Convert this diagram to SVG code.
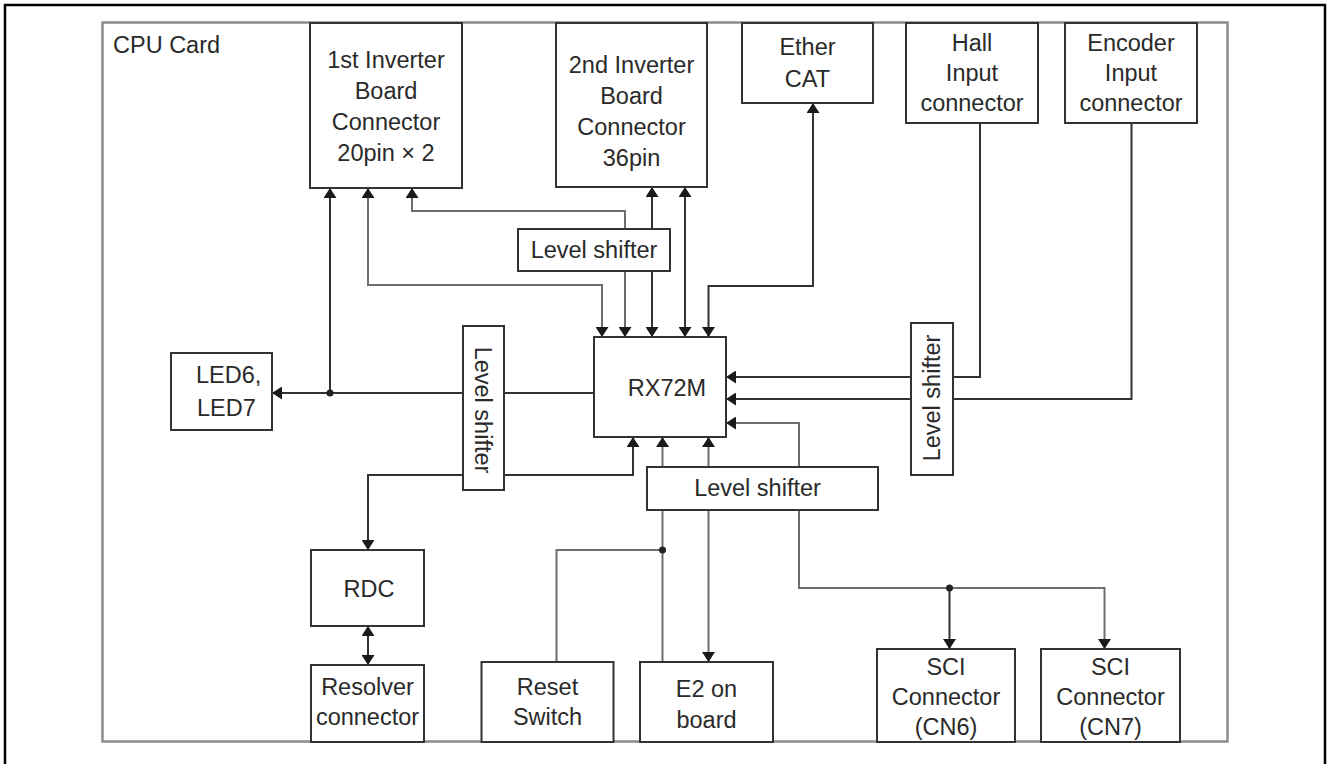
<svg xmlns="http://www.w3.org/2000/svg" width="1328" height="764" viewBox="0 0 1328 764">
<style>
.box{fill:#fff;stroke:#333;stroke-width:2}
.t{font-family:"Liberation Sans",Arial,sans-serif;font-size:23.5px;fill:#2a2a2a;text-anchor:middle}
.ts{text-anchor:start}
.c{fill:none;stroke:#333;stroke-width:2}
.g{fill:none;stroke:#6e6e6e;stroke-width:2}
.ar{marker-end:url(#a)}
.ar2{marker-start:url(#a);marker-end:url(#a)}
.dot{fill:#222}
</style>
<defs>
<marker id="a" viewBox="0 0 10 13" refX="10" refY="6.5" markerWidth="10" markerHeight="13" markerUnits="userSpaceOnUse" orient="auto-start-reverse">
<path d="M0,0 L10,6.5 L0,13 z" fill="#1a1a1a"/>
</marker>
</defs>
<rect width="1328" height="764" fill="#fff"/>
<path d="M5,764 V5 H1325 V764" fill="none" stroke="#000" stroke-width="2.5"/>
<g id="cpu-card">
<rect x="102.5" y="22.5" width="1125" height="719" fill="none" stroke="#8c8c8c" stroke-width="2.5"/>
<text class="t ts" x="113" y="53">CPU Card</text>
</g>
<g id="connectors">
<path class="c ar" d="M330,393 V188"/>
<path class="c ar" d="M594,393 H272"/>
<circle class="dot" cx="330" cy="393" r="3.5"/>
<path class="g ar2" d="M368,188 V285 H602 V337"/>
<path class="g ar2" d="M412,188 V211 H625 V337"/>
<path class="c ar2" d="M652,187 V337"/>
<path class="c ar2" d="M685,187 V337"/>
<path class="c ar2" d="M813,103 V286 H708.5 V337"/>
<path class="c ar" d="M980,123 V377 H726"/>
<path class="c ar" d="M1131.5,123 V399 H726"/>
<path class="g ar2" d="M726,423 H799 V588 H1104.5 V649"/>
<path class="c ar" d="M949.5,588 V649"/>
<circle class="dot" cx="949.5" cy="588" r="3.5"/>
<path class="c ar2" d="M368,550 V475 H633 V437"/>
<path class="g ar" d="M662.5,662 V437"/>
<path class="g" d="M662.5,550 H556.5 V662"/>
<circle class="dot" cx="662.5" cy="550" r="3.5"/>
<path class="g ar2" d="M708.5,437 V662"/>
<path class="c ar2" d="M368,626 V665"/>
</g>
<g id="inv1">
<rect class="box" x="310" y="23" width="152" height="165"/>
<text class="t" x="386" y="68">1st Inverter</text>
<text class="t" x="386" y="99">Board</text>
<text class="t" x="386" y="130">Connector</text>
<text class="t" x="386" y="161">20pin × 2</text>
</g>
<g id="inv2">
<rect class="box" x="556" y="23" width="151" height="164"/>
<text class="t" x="631.5" y="73">2nd Inverter</text>
<text class="t" x="631.5" y="104">Board</text>
<text class="t" x="631.5" y="135">Connector</text>
<text class="t" x="631.5" y="166">36pin</text>
</g>
<g id="ethercat">
<rect class="box" x="742" y="23" width="131" height="80"/>
<text class="t" x="807.5" y="55">Ether</text>
<text class="t" x="807.5" y="87">CAT</text>
</g>
<g id="hall">
<rect class="box" x="906" y="23" width="132" height="100"/>
<text class="t" x="972" y="51">Hall</text>
<text class="t" x="972" y="81">Input</text>
<text class="t" x="972" y="111">connector</text>
</g>
<g id="encoder">
<rect class="box" x="1065" y="23" width="132" height="100"/>
<text class="t" x="1131" y="51">Encoder</text>
<text class="t" x="1131" y="81">Input</text>
<text class="t" x="1131" y="111">connector</text>
</g>
<g id="ls-top">
<rect class="box" x="518" y="229" width="152" height="42"/>
<text class="t" x="594" y="258">Level shifter</text>
</g>
<g id="led">
<rect class="box" x="171" y="353" width="101" height="77"/>
<text class="t ts" x="196" y="383">LED6,</text>
<text class="t ts" x="197" y="416">LED7</text>
</g>
<g id="ls-left">
<rect class="box" x="463" y="326" width="41" height="164"/>
<text class="t" transform="translate(475,410) rotate(90)">Level shifter</text>
</g>
<g id="rx72m">
<rect class="box" x="594" y="337" width="132" height="100"/>
<text class="t" x="667" y="396">RX72M</text>
</g>
<g id="ls-right">
<rect class="box" x="911" y="323" width="42" height="152"/>
<text class="t" transform="translate(940,398) rotate(-90)">Level shifter</text>
</g>
<g id="ls-bottom">
<rect class="box" x="647" y="467" width="231" height="43"/>
<text class="t" x="757.5" y="496">Level shifter</text>
</g>
<g id="rdc">
<rect class="box" x="311" y="550" width="113" height="76"/>
<text class="t" x="369" y="597">RDC</text>
</g>
<g id="resolver">
<rect class="box" x="311" y="665" width="113" height="77"/>
<text class="t" x="367.5" y="695">Resolver</text>
<text class="t" x="367.5" y="725">connector</text>
</g>
<g id="reset">
<rect class="box" x="481.5" y="662" width="132" height="80"/>
<text class="t" x="547.5" y="695">Reset</text>
<text class="t" x="547.5" y="725">Switch</text>
</g>
<g id="e2">
<rect class="box" x="640" y="662" width="133" height="80"/>
<text class="t" x="706.5" y="697">E2 on</text>
<text class="t" x="706.5" y="728">board</text>
</g>
<g id="sci6">
<rect class="box" x="877" y="649" width="138" height="93"/>
<text class="t" x="946" y="675">SCI</text>
<text class="t" x="946" y="705">Connector</text>
<text class="t" x="946" y="735">(CN6)</text>
</g>
<g id="sci7">
<rect class="box" x="1041" y="649" width="139" height="93"/>
<text class="t" x="1110.5" y="675">SCI</text>
<text class="t" x="1110.5" y="705">Connector</text>
<text class="t" x="1110.5" y="735">(CN7)</text>
</g>
</svg>
